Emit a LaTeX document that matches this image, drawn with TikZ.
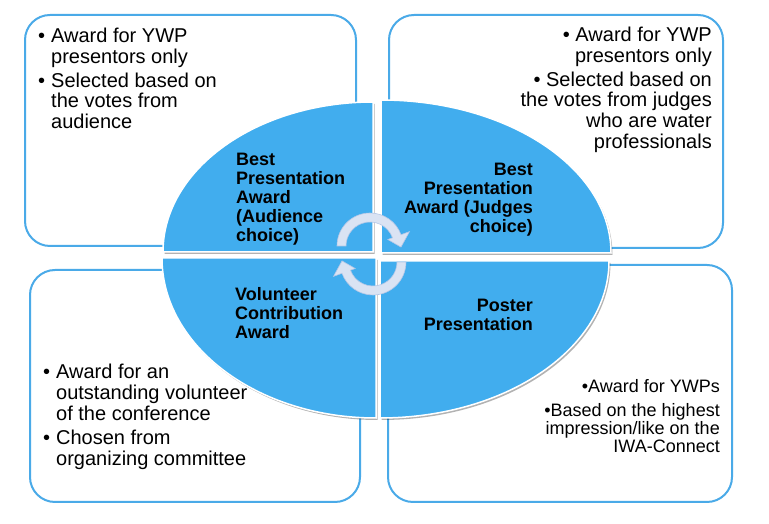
\documentclass[tikz,border=0pt]{standalone}
\usepackage{fontspec}
\setmainfont{Liberation Sans}
\usepackage{array}
\definecolor{boxblue}{RGB}{74,170,232}
\definecolor{quadblue}{RGB}{65,173,238}
\definecolor{arrfill}{RGB}{218,227,243}
\definecolor{arrline}{RGB}{180,199,231}
\newcommand\bulitem{\makebox[13pt][l]{•}}
\newcommand\tlquad{(373,272) -- ++(-210,0) arc[start angle=180,end angle=90,x radius=210,y radius=150] -- cycle}
\newcommand\trquad{(381,271) -- ++(0,153) arc[start angle=90,end angle=0,x radius=230,y radius=153] -- cycle}
\newcommand\blquad{(376,266) -- ++(-214,0) arc[start angle=180,end angle=270,x radius=214,y radius=160] -- cycle}
\newcommand\brquad{(380,263) -- ++(229,0) arc[start angle=0,end angle=-90,x radius=229,y radius=157] -- cycle}
\newcommand\cyclepath{(180:33) arc[start angle=180,end angle=20,radius=33] -- (20:42) -- (-2:31) -- (20:19) -- (20:24) arc[start angle=20,end angle=180,radius=24] -- cycle}
\begin{document}
\begin{tikzpicture}[x=1pt,y=1pt,
  infobox/.style={draw=boxblue, line width=2pt, rounded corners=25pt},
  quad/.style={fill=quadblue, draw=white, line width=1.5pt},
  quadshadow/.style={fill=black, opacity=0.3},
  cyclearrow/.style={fill=arrfill, draw=arrline, line width=0.6pt},
  bodytext/.style={inner sep=0pt, font=\fontsize{20}{20.5}\selectfont},
  smalltext/.style={inner sep=0pt, font=\fontsize{18}{18}\selectfont},
  quadtext/.style={inner sep=0pt, font=\bfseries\fontsize{18}{19}\selectfont}]
\useasboundingbox[fill=white] (0,0) rectangle (769,524);
% outer boxes
\draw[infobox] (25,278) rectangle (356,509);
\draw[infobox] (389,276) rectangle (723,509);
\draw[infobox] (30,22) rectangle (360,254);
\draw[infobox] (388,22) rectangle (732,259);
% quadrant shadows
\begin{scope}[shift={(1.5,-2)}]
\fill[quadshadow] \tlquad;
\fill[quadshadow] \trquad;
\fill[quadshadow] \blquad;
\fill[quadshadow] \brquad;
\end{scope}
% quadrants
\path[quad] \tlquad;
\path[quad] \trquad;
\path[quad] \blquad;
\path[quad] \brquad;
% cycle arrows
\begin{scope}[shift={(370,278)}]
\path[cyclearrow] \cyclepath;
\end{scope}
\begin{scope}[shift={(373,262)}, rotate=180]
\path[cyclearrow] \cyclepath;
\end{scope}
% quadrant labels
\node[quadtext, anchor=base west] (qtl) at (236,358) {\begin{tabular}[t]{@{}l@{}}Best\\Presentation\\Award\\(Audience\\choice)\end{tabular}};
\node[quadtext, anchor=base east] (qtr) at (533,348) {\begin{tabular}[t]{@{}r@{}}Best\\Presentation\\Award (Judges\\choice)\end{tabular}};
\node[quadtext, anchor=base west] (qbl) at (235,223) {\begin{tabular}[t]{@{}l@{}}Volunteer\\Contribution\\Award\end{tabular}};
\node[quadtext, anchor=base east] (qbr) at (533,212) {\begin{tabular}[t]{@{}r@{}}Poster\\Presentation\end{tabular}};
% box texts
\node[bodytext, anchor=base west] (ttl) at (38,481) {\begin{tabular}[t]{@{}l@{}l@{}}\bulitem & Award for YWP\\ & presentors only\\[3pt] \bulitem & Selected based on\\ & the votes from\\ & audience\end{tabular}};
\node[bodytext, anchor=base east] (ttr) at (712,482) {\begin{tabular}[t]{@{}r@{}}• Award for YWP\\ presentors only\\[3pt] • Selected based on\\ the votes from judges\\ who are water\\ professionals\end{tabular}};
\node[bodytext, anchor=base west] (tbl) at (43,145) {\begin{tabular}[t]{@{}l@{}l@{}}\bulitem & Award for an\\ & outstanding volunteer\\ & of the conference\\[4pt] \bulitem & Chosen from\\ & organizing committee\end{tabular}};
\node[smalltext, anchor=base east] (tbr) at (720,131) {\begin{tabular}[t]{@{}r@{}}•Award for YWPs\\[5pt] •Based on the highest\\ impression/like on the\\ IWA-Connect\end{tabular}};
\end{tikzpicture}
\end{document}
